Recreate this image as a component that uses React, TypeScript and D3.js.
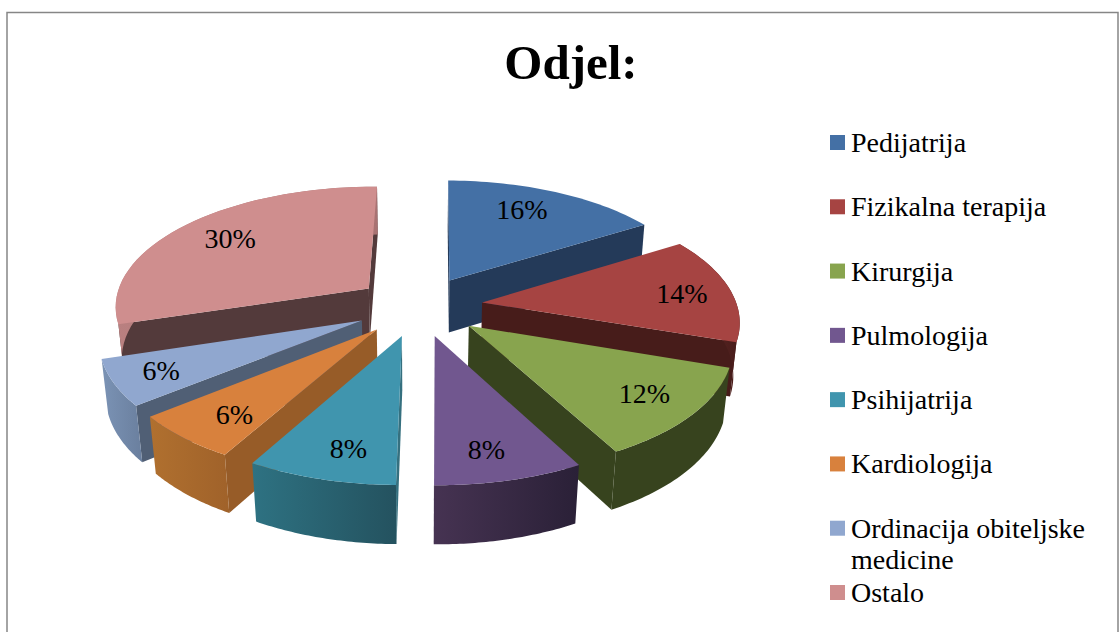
import React from 'react';
import * as d3 from 'd3';

// Chart data
const categories = ['Pedijatrija', 'Fizikalna terapija', 'Kirurgija', 'Pulmologija', 'Psihijatrija', 'Kardiologija', 'Ordinacija obiteljske medicine', 'Ostalo'];
const values = [16, 14, 12, 8, 8, 6, 6, 30];
const legendLines = [['Pedijatrija'], ['Fizikalna terapija'], ['Kirurgija'], ['Pulmologija'], ['Psihijatrija'], ['Kardiologija'], ['Ordinacija obiteljske', 'medicine'], ['Ostalo']];

// Colours
const topColors = ['#4470a5', '#a64442', '#88a44e', '#71578f', '#4095ae', '#d8813d', '#90a7cf', '#cf8e8e'];
const cutColors = ['#243a59', '#471c1a', '#37431e', '#2b2138', '#35707f', '#975c28', '#505f75', '#533a3b'];
const rimFrom = ['#2c4a70', '#6e2d2c', '#37431e', '#463352', '#2e7282', '#b0702f', '#7b93b5', '#b98080'];
const rimTo = ['#2c4a70', '#471c1a', '#37431e', '#2a2037', '#24525f', '#a0622a', '#6a7f9e', '#a87272'];

// small manual shifts for the percent labels
const labelDx = [-12, 6, 5, -5, 8, 5, -10, 6];
const labelDy = [-1, 1, 0, 4, 4, 3, 2, 0];

const width = 1120;
const height = 632;
const fontFamily = '"Liberation Serif", serif';

// 3D pie projection
const cx = 419;
const cy = 306;
const radius = 255;
const squash = 120;
const depth = 54;
const perspective = 0.135;
const explode = 0.25;
const labelR = 0.78;
const rotation = 0.6 * Math.PI / 180;

const project = (x: number, y: number, z: number): [number, number] => {
  const s = 1 / (1 - perspective * y + 0.02 * z);
  return [cx + x * radius * s, cy + (y * squash + z * depth) * s];
};

const line = d3.line();
const closed = (pts: [number, number][]) => line(pts) + 'Z';

const arcs = d3.pie<number>().sort(null).value(d => d).startAngle(rotation).endAngle(rotation + Math.PI * 2)(values);

const slices = arcs.map((a, i) => {
  const mid = (a.startAngle + a.endAngle) / 2;
  const ox = Math.sin(mid) * explode;
  const oy = -Math.cos(mid) * explode;
  const at = (angle: number, r: number, z: number) =>
    project(ox + Math.sin(angle) * r, oy - Math.cos(angle) * r, z);
  const angles = d3.range(0, 41).map(k => a.startAngle + (a.endAngle - a.startAngle) * k / 40);
  const topArc = angles.map(t => at(t, 1, 0));
  const botArc = angles.map(t => at(t, 1, 1));
  const apex = at(0, 0, 0);
  const apexBot = at(0, 0, 1);
  const top = [apex, ...topArc];
  const rim = [...topArc, ...botArc.slice().reverse()];
  const startWall: [number, number][] = [apex, topArc[0], botArc[0], apexBot];
  const endWall: [number, number][] = [apex, apexBot, botArc[40], topArc[40]];
  return {
    i,
    mid,
    top,
    // keep only the walls that face the viewer
    walls: [startWall, endWall].filter(w => d3.polygonArea(w) > 0),
    rim,
    rimVisible: a.endAngle > Math.PI / 2 && a.startAngle < Math.PI * 1.5,
    rimX: d3.extent(rim, p => p[0]) as [number, number],
    label: at(mid, labelR, 0),
    order: -Math.cos(mid),
  };
});

const drawOrder = d3.sort(slices, d => d.order);

export default function App() {
  return (
    <svg
      width={width}
      height={height}
      style={{ position: 'absolute', left: 0, top: 0, display: 'block', background: '#fff' }}
    >
      <defs>
        {slices.map(s => (
          <linearGradient key={s.i} id={`rim${s.i}`} gradientUnits="userSpaceOnUse" x1={s.rimX[0]} x2={s.rimX[1]} y1={0} y2={0}>
            <stop offset="0%" stopColor={rimFrom[s.i]} />
            <stop offset="100%" stopColor={rimTo[s.i]} />
          </linearGradient>
        ))}
      </defs>

      <rect x={7} y={12.5} width={1111} height={640} fill="none" stroke="#868686" strokeWidth={1.5} />

      <text x={571} y={79} textAnchor="middle" fontFamily={fontFamily} fontWeight="bold" fontSize={49} fill="#000">Odjel:</text>

      {drawOrder.map(s => (
        <g key={categories[s.i]}>
          {s.walls.map((w, k) => (
            <path key={k} d={closed(w)} fill={cutColors[s.i]} />
          ))}
          {s.rimVisible && <path d={closed(s.rim)} fill={`url(#rim${s.i})`} />}
          <path d={closed(s.top)} fill={topColors[s.i]} />
        </g>
      ))}

      {slices.map(s => (
        <text key={s.i} x={s.label[0] + labelDx[s.i]} y={s.label[1] + labelDy[s.i]} dy="0.35em" textAnchor="middle" fontFamily={fontFamily} fontSize={28} fill="#000">
          {values[s.i]}%
        </text>
      ))}

      {legendLines.map((lines, i) => {
        const rowY = d3.scaleLinear().domain([0, 7]).range([135, 585])(i);
        return (
          <g key={i}>
            <rect x={830} y={rowY} width={15} height={15} fill={topColors[i]} />
            {lines.map((t, k) => (
              <text key={t} x={851} y={rowY + 17 + k * 31} fontFamily={fontFamily} fontSize={28} fill="#000">{t}</text>
            ))}
          </g>
        );
      })}
    </svg>
  );
}
